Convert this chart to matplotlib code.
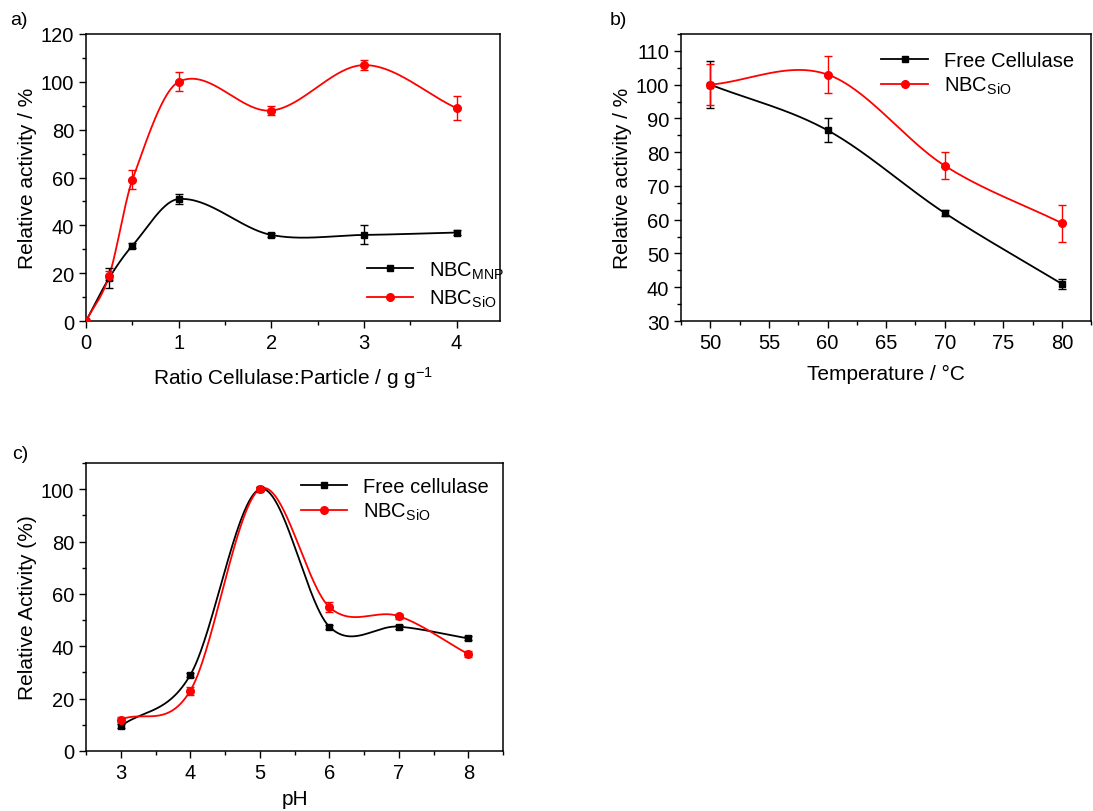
import numpy as np
import matplotlib
matplotlib.use("Agg")
import matplotlib.pyplot as plt
from matplotlib.ticker import MultipleLocator

plt.rcParams["font.family"] = ["Liberation Sans", "DejaVu Sans"]
plt.rcParams["mathtext.fontset"] = "custom"
plt.rcParams["mathtext.rm"] = "Liberation Sans"
plt.rcParams["mathtext.it"] = "Liberation Sans:italic"
plt.rcParams["font.size"] = 15

# (a) ratio cellulase:particle
ratio = [0, 0.25, 0.5, 1, 2, 3, 4]
mnp_act = [0, 18, 31.5, 51, 36, 36, 37]
mnp_err = [0, 4, 1, 2, 1, 4, 1]
sio_ratio_act = [0, 19, 59, 100, 88, 107, 89]
sio_ratio_err = [0, 2, 4, 4, 2, 2, 5]

# (b) temperature
temp = [50, 60, 70, 80]
free_temp_act = [100, 86.5, 62, 41]
free_temp_err = [7, 3.5, 1, 1.5]
sio_temp_act = [100, 103, 76, 59]
sio_temp_err = [6, 5.5, 4, 5.5]

# (c) pH
ph = [3, 4, 5, 6, 7, 8]
free_ph_act = [9.5, 29, 100, 47.5, 47.5, 43]
free_ph_err = [0.8, 0.8, 0.8, 0.8, 0.8, 0.8]
sio_ph_act = [12, 23, 100, 55, 51.5, 37]
sio_ph_err = [1, 1.5, 0.8, 2, 1, 1]


def smooth(x, y, n=60):
    # cardinal (Catmull-Rom) hermite curve through the points
    x = np.asarray(x, float)
    y = np.asarray(y, float)
    k = len(x)
    m = np.zeros(k)
    m[0] = (y[1] - y[0]) / (x[1] - x[0])
    m[-1] = (y[-1] - y[-2]) / (x[-1] - x[-2])
    m[1:-1] = (y[2:] - y[:-2]) / (x[2:] - x[:-2])
    xs_all, ys_all = [], []
    for i in range(k - 1):
        h = x[i + 1] - x[i]
        t = np.linspace(0, 1, n)
        h00 = 2 * t**3 - 3 * t**2 + 1
        h10 = t**3 - 2 * t**2 + t
        h01 = -2 * t**3 + 3 * t**2
        h11 = t**3 - t**2
        xs_all.append(x[i] + t * h)
        ys_all.append(h00 * y[i] + h10 * h * m[i] + h01 * y[i + 1] + h11 * h * m[i + 1])
    return np.concatenate(xs_all), np.concatenate(ys_all)


def draw(ax, x, y, err, color, marker, label, ms):
    xs, ys = smooth(x, y)
    ax.plot(xs, ys, color=color, lw=1.3, zorder=2)
    ax.errorbar(x, y, yerr=err, fmt=marker, color=color, ms=ms,
                capsize=3, elinewidth=1, capthick=1, zorder=3)
    ax.plot([], [], color=color, marker=marker, ms=ms, lw=1.3, label=label)


def style(ax):
    ax.tick_params(which="both", direction="out", top=False, right=False,
                   labelsize=14.5, width=1)
    ax.tick_params(which="major", length=5)
    ax.tick_params(which="minor", length=3)
    for s in ax.spines.values():
        s.set_linewidth(1.1)


fig = plt.figure(figsize=(10.93, 8.12), dpi=100)

sio = "NBC$_{\\mathregular{SiO}}$"

ax1 = fig.add_axes([0.0787, 0.6034, 0.3788, 0.3535])
draw(ax1, ratio, mnp_act, mnp_err, "black", "s", "NBC$_{\\mathregular{MNP}}$", 5)
draw(ax1, ratio, sio_ratio_act, sio_ratio_err, "red", "o", sio, 5.5)
ax1.set_xlim(0, 4.47)
ax1.set_ylim(0, 120)
ax1.xaxis.set_major_locator(MultipleLocator(1))
ax1.xaxis.set_minor_locator(MultipleLocator(0.5))
ax1.yaxis.set_major_locator(MultipleLocator(20))
ax1.yaxis.set_minor_locator(MultipleLocator(10))
ax1.set_xlabel("Ratio Cellulase:Particle / g g$^{\\mathregular{-1}}$", labelpad=9)
ax1.set_ylabel("Relative activity / %", labelpad=3)
style(ax1)
ax1.legend(loc="lower right", frameon=False, fontsize=14.5, handlelength=2.3,
           borderaxespad=0.2, labelspacing=0.35, bbox_to_anchor=(1.04, 0.0))

ax2 = fig.add_axes([0.6231, 0.6034, 0.3752, 0.3535])
draw(ax2, temp, free_temp_act, free_temp_err, "black", "s", "Free Cellulase", 5)
draw(ax2, temp, sio_temp_act, sio_temp_err, "red", "o", sio, 5.5)
ax2.set_xlim(47.5, 82.5)
ax2.set_ylim(30, 115)
ax2.xaxis.set_major_locator(MultipleLocator(5))
ax2.xaxis.set_minor_locator(MultipleLocator(2.5))
ax2.yaxis.set_major_locator(MultipleLocator(10))
ax2.yaxis.set_minor_locator(MultipleLocator(5))
ax2.set_xlabel("Temperature / °C", labelpad=9)
ax2.set_ylabel("Relative activity / %", labelpad=3)
style(ax2)
ax2.legend(loc="upper right", frameon=False, fontsize=14.5, handlelength=2.3,
           borderaxespad=0.45, labelspacing=0.25, bbox_to_anchor=(1.0, 1.0))

ax3 = fig.add_axes([0.0787, 0.0739, 0.3815, 0.3547])
draw(ax3, ph, free_ph_act, free_ph_err, "black", "s", "Free cellulase", 5)
draw(ax3, ph, sio_ph_act, sio_ph_err, "red", "o", sio, 5.5)
ax3.set_xlim(2.5, 8.5)
ax3.set_ylim(0, 110)
ax3.xaxis.set_major_locator(MultipleLocator(1))
ax3.xaxis.set_minor_locator(MultipleLocator(0.5))
ax3.yaxis.set_major_locator(MultipleLocator(20))
ax3.yaxis.set_minor_locator(MultipleLocator(10))
ax3.set_xlabel("pH", labelpad=5)
ax3.set_ylabel("Relative Activity (%)", labelpad=3)
style(ax3)
ax3.legend(loc="upper right", frameon=False, fontsize=14.5, handlelength=2.3,
           borderaxespad=0.3, labelspacing=0.25, bbox_to_anchor=(1.0, 1.0))

fig.text(0.009, 0.975, "a)", fontsize=14, va="center")
fig.text(0.558, 0.975, "b)", fontsize=14, va="center")
fig.text(0.011, 0.44, "c)", fontsize=14, va="center")

fig.savefig("out.png", dpi=100)
